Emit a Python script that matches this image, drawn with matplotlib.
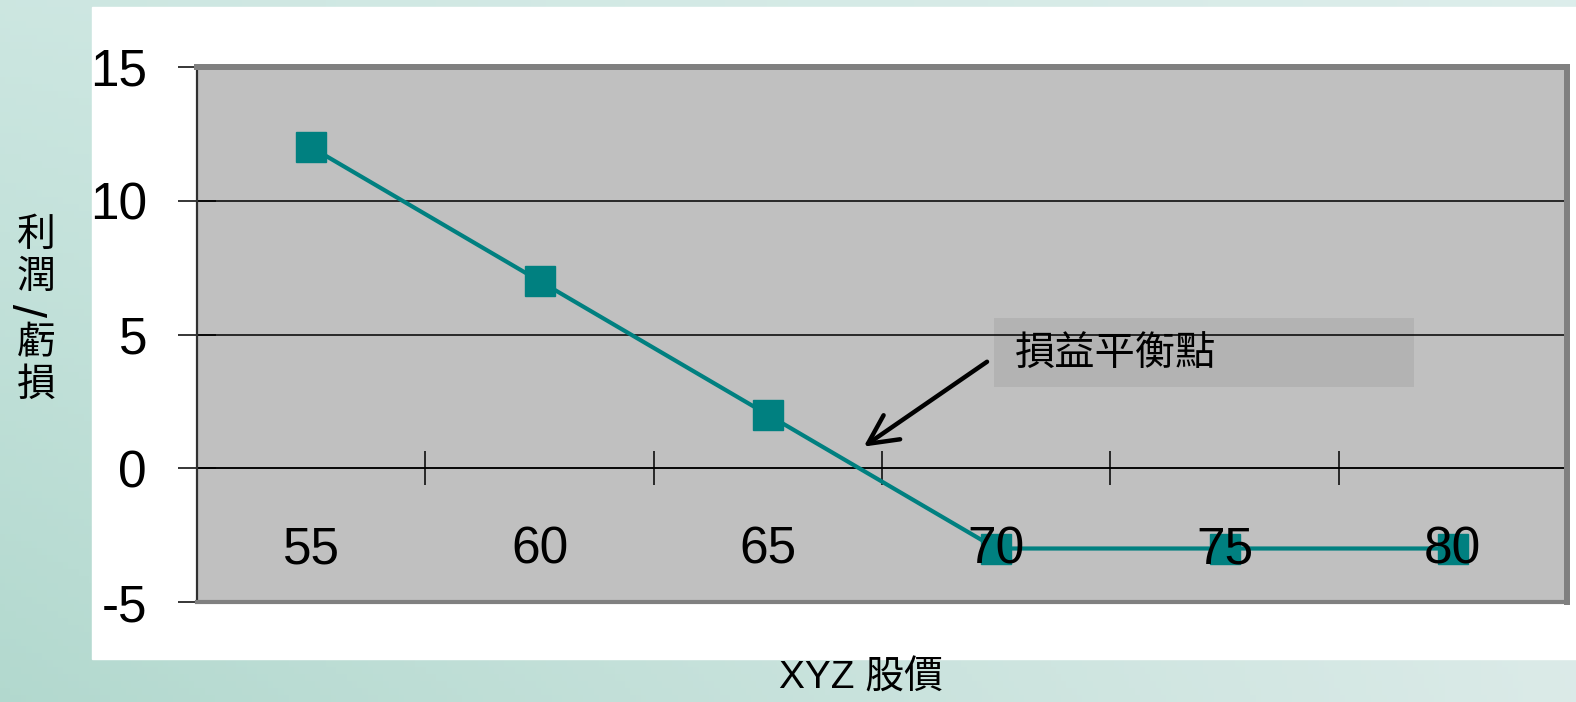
import numpy as np
import matplotlib.pyplot as plt
from matplotlib.patches import Rectangle

plt.rcParams['font.family'] = ['Liberation Sans', 'Noto Sans CJK TC']
plt.rcParams['axes.unicode_minus'] = False

# profit / loss per share price
prices = ["55", "60", "65", "70", "75", "80"]
profit = [12, 7, 2, -3, -3, -3]
y_ticks = [-5, 0, 5, 10, 15]

x_title = "XYZ 股價"
y_title = "利潤/虧損"
note = "損益平衡點"

W, H = 1576, 702
fig = plt.figure(figsize=(W / 100, H / 100), dpi=100)

# soft teal backdrop
bg = fig.add_axes([0, 0, 1, 1])
gx = np.linspace(0, 1, 300)[None, :, None]
gy = np.linspace(0, 1, 100)[:, None, None]
left = np.array([0.70, 0.85, 0.81])
right = np.array([0.86, 0.92, 0.91])
top = np.array([0.87, 0.94, 0.93])
grad = left * (1 - gx) + right * gx
grad = grad * gy + top * (1 - gy) * 0.6 + grad * (1 - gy) * 0.4
bg.imshow(grad, extent=[0, 1, 0, 1], aspect='auto', origin='upper')
bg.add_patch(Rectangle((92 / W, 1 - 659 / H), 1 - 92 / W, (659 - 7) / H,
                       color='white', transform=bg.transAxes))
bg.set_xlim(0, 1)
bg.set_ylim(0, 1)
bg.axis('off')

ax = fig.add_axes([197 / W, 1 - 602 / H, (1567 - 197) / W, (602 - 67) / H])
ax.set_facecolor('#c0c0c0')
x = np.arange(len(prices))
ax.plot(x, profit, color='#008080', lw=3, marker='s', markersize=21,
        mec='#008080', mew=1)

ax.set_xlim(-0.5, len(prices) - 0.5)
ax.set_ylim(-5, 15)
ax.set_yticks(y_ticks)
ax.tick_params(axis='y', direction='inout', length=28, width=1.1, pad=22,
               labelsize=37, color='black')
ax.grid(axis='y', color='black', lw=1.1)
gl = ax.get_ygridlines()
gl[0].set_visible(False)
gl[-1].set_visible(False)

# price labels sit low inside the plot, over the markers
ax.set_xticks(x, prices)
ax.tick_params(axis='x', length=0, pad=-55, labelsize=37)
ax.xaxis.set_zorder(3)

for side in ['top', 'right']:
    ax.spines[side].set_color('#808080')
    ax.spines[side].set_linewidth(4.3)
ax.spines['bottom'].set_color('#808080')
ax.spines['bottom'].set_linewidth(3)
ax.spines['left'].set_color('#303030')
ax.spines['left'].set_linewidth(1.6)

# category axis crossing at zero
sec = ax.secondary_xaxis(0.25)
sec.set_xticks(x + 0.5, labels=[])
sec.tick_params(direction='inout', length=24, width=1.1, color='black')
for side in ['top', 'bottom']:
    sec.spines[side].set_color('black')
    sec.spines[side].set_linewidth(1.1)

# break-even callout
ax.add_patch(Rectangle((2.99, 3.03), 1.84, 2.58, color='#b3b3b3', lw=0, zorder=1.4))
ax.text(3.08, 4.3, note, fontsize=29, va='center', ha='left',
        family=['Noto Sans CJK TC'])
ax.annotate('', xy=(2.41, 0.75), xytext=(2.97, 4.04),
            arrowprops=dict(arrowstyle='->, head_length=0.7, head_width=0.35',
                            lw=3.2, color='black', mutation_scale=30))

fig.text(861 / W, 1 - 679 / H, x_title, fontsize=28, ha='center', va='center')

# vertical y title, one character per line; the slash is turned sideways
yc = 236
for ch in y_title:
    if ch == '/':
        fig.text(36 / W, 1 - (yc - 10) / H, ch, fontsize=34, ha='center',
                 va='center', rotation=90)
        yc += 24
    else:
        fig.text(36 / W, 1 - yc / H, ch, fontsize=28, ha='center', va='center')
        yc += 42

fig.savefig('out.png', dpi=100)
